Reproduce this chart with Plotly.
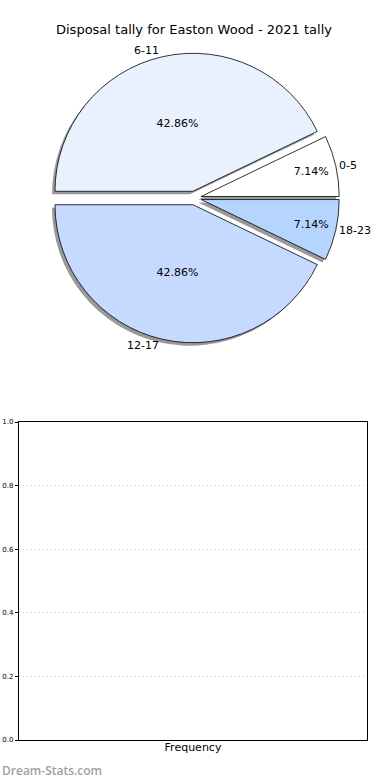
import plotly.graph_objects as go

labels = ["0-5", "6-11", "12-17", "18-23"]
values = [1, 6, 6, 1]
colors = ["#ffffff", "#eaf1fe", "#c6d9fe", "#b5d5ff"]
yticks = [0.0, 0.2, 0.4, 0.6, 0.8, 1.0]
title = "Disposal tally for Easton Wood - 2021 tally"

W, H = 390, 780
cx, cy = 196, 198
half = 146
pull = [0.05] * len(values)
rotation = 90 - 360 * values[0] / sum(values)

def dom(dx=0, dy=0):
    return dict(x=[(cx - half + dx) / W, (cx + half + dx) / W],
                y=[1 - (cy + half + dy) / H, 1 - (cy - half + dy) / H])

common = dict(labels=labels, values=values, sort=False, direction="counterclockwise",
              rotation=rotation, pull=pull, hoverinfo="skip", showlegend=False)

fig = go.Figure()
# shadow
fig.add_trace(go.Pie(**common, domain=dom(-3, 3),
                     marker=dict(colors=["#999999"] * len(values), line=dict(width=0)),
                     textinfo="none"))
# main slices with percent inside
fig.add_trace(go.Pie(**common, domain=dom(),
                     marker=dict(colors=colors, line=dict(color="#000000", width=0.8)),
                     texttemplate="%{percent:.2%}", textposition="inside",
                     insidetextorientation="horizontal",
                     textfont=dict(family="DejaVu Sans", size=11, color="#000000")))
# outside labels
fig.add_trace(go.Pie(**common, domain=dom(),
                     marker=dict(colors=["rgba(0,0,0,0)"] * len(values), line=dict(width=0)),
                     texttemplate="%{label}", textposition="outside",
                     outsidetextfont=dict(family="DejaVu Sans", size=11, color="#000000")))

# empty frequency axes
fig.add_trace(go.Scatter(x=[], y=[], xaxis="x", yaxis="y", showlegend=False))

fig.update_layout(
    width=W, height=H,
    margin=dict(l=0, r=0, t=0, b=0),
    paper_bgcolor="#ffffff", plot_bgcolor="#ffffff",
    xaxis=dict(domain=[19 / W, 370 / W], range=[0, 1], showticklabels=False, ticks="",
               showgrid=False, zeroline=False, showline=True, linecolor="#000000",
               linewidth=1, mirror=True, automargin=False,
               title=dict(text="Frequency", font=dict(family="DejaVu Sans", size=11, color="#000000"),
                          standoff=3)),
    yaxis=dict(domain=[40 / H, 358 / H], range=[0, 1], tickvals=yticks,
               ticktext=[f"{v:.1f}" for v in yticks], ticks="outside", ticklen=3,
               tickcolor="#000000", tickfont=dict(family="DejaVu Sans", size=7, color="#000000"),
               showgrid=True, gridcolor="#c8c8c8", griddash="1px,3px", gridwidth=1,
               zeroline=False, showline=True, linecolor="#000000", linewidth=1, mirror=True,
               automargin=False),
    annotations=[
        dict(text=title, x=0.5, y=1 - 30 / H, xref="paper", yref="paper",
             xanchor="center", yanchor="middle", showarrow=False,
             font=dict(family="DejaVu Sans", size=13, color="#000000")),
        dict(text="Dream-Stats.com", x=0, y=1 - 770 / H, xref="paper", yref="paper",
             xanchor="left", yanchor="middle", showarrow=False,
             font=dict(family="Open Sans", size=12, weight=600, color="#a0a0a0")),
    ],
)

fig.write_html("out.html", config={"displayModeBar": False},
               post_script="document.body.style.margin='0';")
